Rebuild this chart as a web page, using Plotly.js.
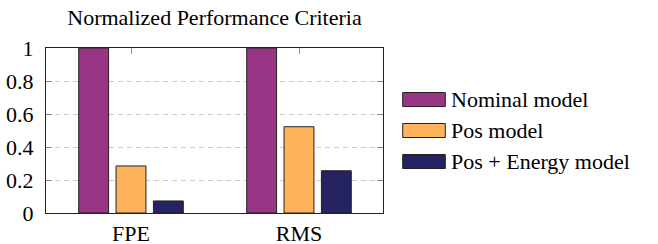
<!DOCTYPE html>
<html>
<head>
<meta charset="utf-8">
<script src="https://cdn.plot.ly/plotly-3.0.1.min.js"></script>
</head>
<body style="margin:0;background:#fff">
<div id="chart" style="width:658px;height:244px"></div>
<script>
const categories = ["FPE", "RMS"];
const seriesNames = ["Nominal model", "Pos model", "Pos + Energy model"];
const nominalValues = [1.0, 1.0];
const posValues = [0.285, 0.523];
const posEnergyValues = [0.073, 0.256];
const yTickValues = [0, 0.2, 0.4, 0.6, 0.8, 1];
const yTickLabels = ["0", "0.2", "0.4", "0.6", "0.8", "1"];
const seriesColors = ["#983685", "#FDB35B", "#262363"];

const FONT = "Liberation Serif";
const FS = 22;
const allValues = [nominalValues, posValues, posEnergyValues];

const traces = allValues.map((vals, i) => ({
  type: "bar",
  x: categories,
  y: vals,
  name: seriesNames[i],
  marker: {color: seriesColors[i], line: {color: "#222", width: 1}},
  showlegend: false,
  hoverinfo: "skip"
}));

const shapes = [];
const annotations = [];
const legX0 = 402.7, legX1 = 445.3, rowY = [99.5, 130.5, 161.5], swH = 14;
seriesNames.forEach((name, i) => {
  shapes.push({
    type: "rect", xref: "paper", yref: "paper",
    x0: (legX0 - 46) / 337, x1: (legX1 - 46) / 337,
    y0: (213 - (rowY[i] + swH / 2)) / 165, y1: (213 - (rowY[i] - swH / 2)) / 165,
    fillcolor: seriesColors[i], line: {color: "#222", width: 1}
  });
  annotations.push({
    xref: "paper", yref: "paper",
    x: (449 - 46) / 337, y: (213 - rowY[i]) / 165,
    xanchor: "left", yanchor: "middle", showarrow: false,
    text: name, font: {family: FONT, size: FS, color: "#000"}
  });
});

const layout = {
  width: 658, height: 244,
  margin: {l: 46, r: 275, t: 48, b: 31, pad: 0},
  paper_bgcolor: "#fff", plot_bgcolor: "#fff",
  title: {
    text: "Normalized Performance Criteria",
    font: {family: FONT, size: FS, color: "#000"},
    xref: "container", x: 214.5 / 658, xanchor: "center",
    yref: "container", y: 1 - 17 / 244, yanchor: "middle"
  },
  barmode: "group",
  bargap: 0.333,
  bargroupgap: 0.2,
  xaxis: {
    type: "category",
    range: [-0.506, 1.5],
    showline: true, linecolor: "#222", linewidth: 1,
    mirror: true,
    ticks: "", showgrid: false, zeroline: false,
    tickfont: {family: FONT, size: FS, color: "#000"},
    ticklabelstandoff: 1,
    fixedrange: true
  },
  xaxis2: {
    type: "category",
    overlaying: "x", side: "top", anchor: "y",
    range: [-0.506, 1.5],
    categoryarray: categories, categoryorder: "array",
    tickvals: categories,
    showticklabels: false,
    ticks: "inside", ticklen: 6, tickcolor: "#999", tickwidth: 1,
    showline: false, showgrid: false, zeroline: false
  },
  yaxis: {
    range: [0, 1],
    tickvals: yTickValues, ticktext: yTickLabels,
    showline: true, linecolor: "#222", linewidth: 1,
    mirror: "ticks",
    ticks: "inside", ticklen: 6, tickcolor: "#888", tickwidth: 1,
    showgrid: true, gridcolor: "#ccc", gridwidth: 1, griddash: "5px,4px",
    zeroline: false,
    tickfont: {family: FONT, size: FS, color: "#000"},
    ticklabelstandoff: 7,
    fixedrange: true
  },
  shapes: shapes,
  annotations: annotations,
  showlegend: false
};

traces.push({type: "scatter", x: categories, y: [0, 0], xaxis: "x2", yaxis: "y",
  mode: "markers", marker: {opacity: 0}, showlegend: false, hoverinfo: "skip"});

Plotly.newPlot("chart", traces, layout, {displayModeBar: false});
</script>
</body>
</html>
